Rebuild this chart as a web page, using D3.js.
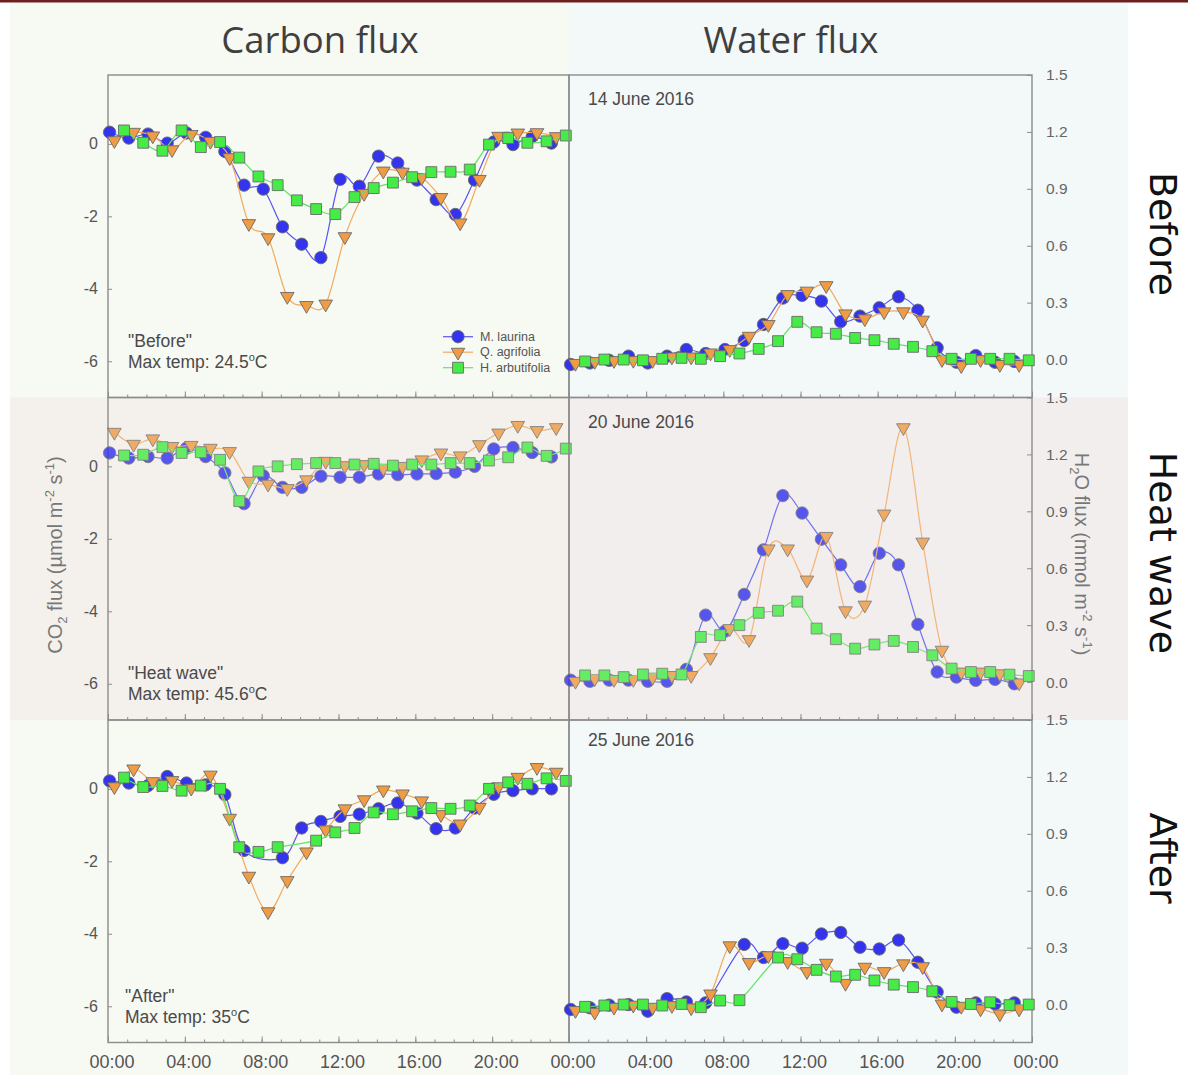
<!DOCTYPE html>
<html>
<head>
<meta charset="utf-8">
<script src="https://cdn.jsdelivr.net/npm/d3@7"></script>
<style>
  body { margin: 0; background: #fff; }
  svg { display: block; }
</style>
</head>
<body>
<svg id="fig" width="1188" height="1075"></svg>
<script>
// ---- data ---------------------------------------------------------------
const hours = [0,1,2,3,4,5,6,7,8,9,10,11,12,13,14,15,16,17,18,19,20,21,22,23];
const hourTicks = [0,4,8,12,16,20,24];
const hourLabels = ["00:00","04:00","08:00","12:00","16:00","20:00","00:00"];
const species = ["M. laurina", "Q. agrifolia", "H. arbutifolia"];
const sampleMinute = [5, 20, 50];           // minute within each hour a species is logged
const co2Ticks = [0, -2, -4, -6];
const h2oTicks = [0.0, 0.3, 0.6, 0.9, 1.2, 1.5];
const rowNames = ["Before", "Heat wave", "After"];
const periodNames = ["\"Before\"", "\"Heat wave\"", "\"After\""];
const maxTemps = ["24.5", "45.6", "35"];
const days = ["14 June 2016", "20 June 2016", "25 June 2016"];
const columnTitles = ["Carbon flux", "Water flux"];

// CO2 flux (µmol m-2 s-1)
const co2BeforeML = [0.32,0.16,0.27,0.02,0.30,0.18,-0.21,-1.14,-1.25,-2.29,-2.77,-3.14,-0.98,-1.17,-0.34,-0.53,-1.00,-1.54,-1.95,-1.00,0.05,-0.02,0.20,0.02];
const co2BeforeQA = [0.09,0.32,0.22,-0.16,0.26,0.07,-0.38,-2.20,-2.59,-4.21,-4.46,-4.42,-2.56,-1.37,-0.75,-0.78,-0.93,-1.48,-2.18,-0.98,0.21,0.30,0.31,0.20];
const co2BeforeHA = [0.37,0.03,-0.19,0.37,-0.09,0.05,-0.38,-0.90,-1.14,-1.56,-1.80,-1.94,-1.47,-1.22,-1.07,-0.92,-0.78,-0.77,-0.71,-0.02,0.16,0.03,0.07,0.23];

const co2HeatML = [0.37,0.23,0.27,0.23,0.50,0.27,-0.18,-1.03,-0.26,-0.58,-0.58,-0.27,-0.30,-0.30,-0.21,-0.23,-0.21,-0.20,-0.16,0.00,0.48,0.52,0.38,0.26];
const co2HeatQA = [0.94,0.61,0.76,0.55,0.58,0.50,0.41,-0.41,-0.49,-0.61,-0.37,0.14,0.02,0.05,-0.05,0.00,0.18,0.37,0.29,0.60,0.92,1.13,0.99,1.07];
const co2HeatHA = [0.30,0.32,0.53,0.37,0.39,0.18,-0.96,-0.14,0.00,0.06,0.09,0.09,0.05,0.07,0.02,0.05,0.05,0.09,0.09,0.16,0.25,0.52,0.29,0.49];

const co2AfterML = [0.22,0.16,0.09,0.34,0.16,0.11,-0.16,-1.70,null,-1.90,-1.08,-0.90,-0.76,-0.70,-0.55,-0.39,-0.67,-1.10,-1.08,-0.53,-0.15,-0.05,0.00,0.00];
const co2AfterQA = [0.06,0.55,0.20,0.23,0.02,0.38,-0.81,-2.41,-3.39,-2.53,-1.74,-1.13,-0.55,-0.30,-0.03,-0.14,-0.33,-0.71,-0.97,-0.51,0.06,0.32,0.59,0.46];
const co2AfterHA = [0.31,0.05,0.08,-0.05,0.09,0.00,-1.61,-1.74,-1.61,null,-1.43,-1.20,-1.08,-0.65,-0.70,-0.62,-0.53,-0.55,-0.46,0.00,0.18,0.14,0.29,0.22];

// H2O flux (mmol m-2 s-1)
const h2oBeforeML = [-0.026,-0.018,-0.004,0.018,-0.018,0.018,0.053,0.032,0.053,0.100,0.185,0.324,0.338,0.308,0.200,0.229,0.273,0.331,0.260,0.062,-0.014,0.021,-0.014,-0.010];
const h2oBeforeQA = [-0.020,-0.010,-0.005,-0.004,-0.005,0.014,0.014,0.035,0.053,0.123,0.185,0.343,0.361,0.390,0.241,0.215,0.252,0.252,0.208,0.000,-0.032,0.000,-0.026,-0.026];
const h2oBeforeHA = [-0.010,0.000,0.000,-0.004,0.004,0.009,0.004,0.018,0.032,0.056,0.097,0.199,0.144,0.136,0.114,0.102,0.083,0.067,0.044,0.004,0.004,0.004,0.004,-0.004];

const h2oHeatML = [0.010,0.004,0.010,0.010,0.004,0.004,0.067,0.353,0.268,0.462,0.697,0.983,0.891,0.753,0.618,0.503,0.679,0.618,0.304,0.053,0.026,0.009,0.014,-0.009];
const h2oHeatQA = [0.004,0.018,0.014,0.014,0.026,0.035,0.035,0.129,0.282,0.224,0.702,0.702,0.538,0.768,0.376,0.406,0.886,1.341,0.738,0.168,0.053,0.053,0.044,-0.004];
const h2oHeatHA = [0.035,0.035,0.026,0.040,0.044,0.040,0.238,0.247,0.300,0.365,0.376,0.424,0.282,0.226,0.176,0.198,0.217,0.185,0.141,0.071,0.053,0.053,0.039,0.032];

const h2oAfterML = [-0.026,-0.017,-0.003,0.000,-0.035,0.031,0.014,0.009,null,0.317,0.248,0.321,0.297,0.372,0.380,0.302,0.293,0.340,0.223,0.066,-0.014,0.009,0.003,0.009];
const h2oAfterQA = [-0.031,-0.040,-0.014,-0.003,-0.014,-0.005,-0.017,0.056,0.310,0.222,0.258,0.227,0.174,0.218,0.112,0.197,0.174,0.215,0.200,0.003,-0.009,-0.023,-0.049,-0.023];
const h2oAfterHA = [-0.012,-0.005,0.000,0.000,-0.005,0.003,-0.014,0.021,0.023,null,0.248,0.239,0.183,0.148,0.157,0.127,0.105,0.092,0.070,0.014,0.003,0.012,-0.003,0.000];

const co2Rows = [
  [co2BeforeML, co2BeforeQA, co2BeforeHA],
  [co2HeatML, co2HeatQA, co2HeatHA],
  [co2AfterML, co2AfterQA, co2AfterHA]
];
const h2oRows = [
  [h2oBeforeML, h2oBeforeQA, h2oBeforeHA],
  [h2oHeatML, h2oHeatQA, h2oHeatHA],
  [h2oAfterML, h2oAfterQA, h2oAfterHA]
];

// ---- layout & style -----------------------------------------------------
const svg = d3.select("#fig");
const FONT = "'Liberation Sans', Arial, sans-serif";
const TITLE_FONT = "'Open Sans', 'Noto Sans', sans-serif";
const ROW_FONT = "'DejaVu Sans', sans-serif";
const xLeft = [108, 569], xRight = [569, 1032];
const rowTop = [75, 397.5, 720], rowH = 322.5;
const frameColor = "#8c8c8c";
const labelColor = "#555";

const lineColors = ["#5656f2", "#f3a95e", "#62e462"];
const fillColors = ["#3434ee", "#f09c44", "#46ec46"];
const markerStroke = "#6a6a6a";
const symbols = [
  d3.symbol().type(d3.symbolCircle).size(120),
  d3.symbol().type(d3.symbolTriangle).size(80),
  d3.symbol().type(d3.symbolSquare).size(118)
];
const symbolRotate = [0, 180, 0];

// background tints
const bg = svg.append("g");
bg.append("rect").attr("x", 0).attr("y", 0).attr("width", 1188).attr("height", 1075).attr("fill", "#fff");
bg.append("rect").attr("x", 10).attr("y", 3).attr("width", 559).attr("height", 1072).attr("fill", "#f7f9f3");
bg.append("rect").attr("x", 569).attr("y", 3).attr("width", 559).attr("height", 1072).attr("fill", "#f3f8f9");
bg.append("rect").attr("x", 10).attr("y", rowTop[1]).attr("width", 559).attr("height", rowH).attr("fill", "#f4f0ec");
bg.append("rect").attr("x", 569).attr("y", rowTop[1]).attr("width", 559).attr("height", rowH).attr("fill", "#f2eeee");
bg.append("rect").attr("x", 0).attr("y", 0).attr("width", 1188).attr("height", 2.5).attr("fill", "#6d1f1f");

// column titles
columnTitles.forEach((t, i) => {
  svg.append("text")
    .attr("x", i === 0 ? 320 : 791).attr("y", 53)
    .attr("text-anchor", "middle")
    .attr("font-family", TITLE_FONT).attr("font-size", 36.5)
    .attr("fill", "#3f3f3f").text(t);
});

// row titles on the right, reading downwards
rowNames.forEach((t, i) => {
  svg.append("text")
    .attr("transform", `translate(1150,${[234, 553, 858][i]}) rotate(90)`)
    .attr("text-anchor", "middle")
    .attr("font-family", ROW_FONT).attr("font-size", 38)
    .attr("fill", "#111").text(t);
});

const layer = svg.append("g");

function drawPanel(r, isLeft) {
  const top = rowTop[r], bottom = rowTop[r] + rowH;
  const xr = isLeft ? xLeft : xRight;
  const x = d3.scaleLinear().domain([0, 24]).range(xr);
  const y = d3.scaleLinear().domain(isLeft ? [-7, 1.9] : [-0.2, 1.5]).range([bottom, top]);
  const g = layer.append("g");

  // frame
  g.append("rect").attr("x", xr[0]).attr("y", top)
    .attr("width", xr[1] - xr[0]).attr("height", rowH)
    .attr("fill", "none").attr("stroke", frameColor).attr("stroke-width", 1.4);

  // bottom time ticks (inward): hourly minor, 4-hourly major
  const xMinor = d3.axisBottom(x).tickValues(d3.range(1, 24)).tickSize(-3).tickFormat("");
  g.append("g").attr("transform", `translate(0,${bottom})`).call(xMinor)
    .call(a => a.select(".domain").remove())
    .call(a => a.selectAll("line").attr("stroke", frameColor));
  const xMajor = d3.axisBottom(x).tickValues(hourTicks).tickSize(-6).tickFormat("");
  g.append("g").attr("transform", `translate(0,${bottom})`).call(xMajor)
    .call(a => a.select(".domain").remove())
    .call(a => a.selectAll("line").attr("stroke", frameColor));

  // value axis
  if (isLeft) {
    const ya = d3.axisLeft(y).tickValues(co2Ticks).tickSize(-4).tickPadding(10).tickFormat(d => String(d));
    g.append("g").attr("transform", `translate(${xr[0]},0)`).call(ya)
      .call(a => a.select(".domain").remove())
      .call(a => a.selectAll("line").attr("stroke", frameColor))
      .call(a => a.selectAll("text").attr("font-family", FONT).attr("font-size", 16).attr("fill", labelColor));
  } else {
    const ya = d3.axisRight(y).tickValues(h2oTicks).tickSize(-5).tickPadding(14).tickFormat(d3.format(".1f"));
    g.append("g").attr("transform", `translate(${xr[1]},0)`).call(ya)
      .call(a => a.select(".domain").remove())
      .call(a => a.selectAll("line").attr("stroke", frameColor))
      .call(a => a.selectAll("text").attr("font-family", FONT).attr("font-size", 15.5).attr("fill", "#666"));
  }

  // series: smoothed line under the markers, missing samples skipped
  const rows = isLeft ? co2Rows : h2oRows;
  const marks = g.append("g").attr("opacity", r === 1 ? 0.82 : 1);
  rows[r].forEach((vals, s) => {
    const pts = hours.map((h, i) => ({ t: h + sampleMinute[s] / 60, v: vals[i] }))
                     .filter(d => d.v !== null);
    const line = d3.line().x(d => x(d.t)).y(d => y(d.v)).curve(d3.curveCardinal.tension(0));
    marks.append("path").attr("d", line(pts))
      .attr("fill", "none").attr("stroke", lineColors[s]).attr("stroke-width", 1.2);
    marks.selectAll(null).data(pts).enter().append("path")
      .attr("d", symbols[s])
      .attr("transform", d => `translate(${x(d.t)},${y(d.v)}) rotate(${symbolRotate[s]})`)
      .attr("fill", fillColors[s]).attr("stroke", markerStroke).attr("stroke-width", 0.9);
  });

  // annotations
  if (isLeft) {
    const tx = r === 2 ? 125 : 128;
    const base = [346.5, 678.5, 1001.5][r];
    g.append("text").attr("x", tx).attr("y", base)
      .attr("font-family", FONT).attr("font-size", 17.5).attr("fill", "#4a4a4a")
      .text(periodNames[r]);
    const t2 = g.append("text").attr("x", tx).attr("y", base + 21.5)
      .attr("font-family", FONT).attr("font-size", 17.5).attr("fill", "#4a4a4a");
    t2.append("tspan").text("Max temp: " + maxTemps[r]);
    t2.append("tspan").attr("font-size", 11).attr("dy", -7).text("o");
    t2.append("tspan").attr("dy", 7).text("C");
  } else {
    g.append("text").attr("x", 588).attr("y", [105, 427.5, 746][r])
      .attr("font-family", FONT).attr("font-size", 17.5).attr("fill", "#4a4a4a")
      .text(days[r]);
  }
}

for (let r = 0; r < 3; r++) { drawPanel(r, true); drawPanel(r, false); }

// time labels under the bottom row
const xLab = d3.scaleLinear().domain([0, 24]);
[xLeft, xRight].forEach((xr, k) => {
  xLab.range(xr);
  svg.append("g").selectAll("text")
    .data(hourTicks.map((h, i) => ({ h, label: hourLabels[i] })).filter(d => !(k === 1 && d.h === 0)))
    .enter().append("text")
    .attr("x", d => xLab(d.h) + 4).attr("y", 1068)
    .attr("text-anchor", "middle")
    .attr("font-family", FONT).attr("font-size", 18).attr("fill", labelColor)
    .text(d => d.label);
});

// legend in the first carbon panel
const legend = svg.append("g");
species.forEach((name, s) => {
  const ly = 336.7 + s * 15.5;
  legend.append("line").attr("x1", 443).attr("x2", 473).attr("y1", ly).attr("y2", ly)
    .attr("stroke", lineColors[s]).attr("stroke-width", 1.2);
  legend.append("path").attr("d", symbols[s])
    .attr("transform", `translate(458,${ly}) rotate(${symbolRotate[s]})`)
    .attr("fill", fillColors[s]).attr("stroke", markerStroke).attr("stroke-width", 0.9);
  legend.append("text").attr("x", 480).attr("y", ly + 4)
    .attr("font-family", FONT).attr("font-size", 12.5).attr("fill", labelColor)
    .text(name);
});

// y-axis titles
const co2Title = svg.append("text")
  .attr("transform", "translate(62,555) rotate(-90)")
  .attr("text-anchor", "middle")
  .attr("font-family", FONT).attr("font-size", 20).attr("fill", "#777");
co2Title.append("tspan").text("CO");
co2Title.append("tspan").attr("font-size", 13).attr("dy", 5).text("2");
co2Title.append("tspan").attr("dy", -5).text(" flux (µmol m");
co2Title.append("tspan").attr("font-size", 13).attr("dy", -8).text("-2");
co2Title.append("tspan").attr("dy", 8).text(" s");
co2Title.append("tspan").attr("font-size", 13).attr("dy", -8).text("-1");
co2Title.append("tspan").attr("dy", 8).text(")");

const h2oTitle = svg.append("text")
  .attr("transform", "translate(1075,554) rotate(90)")
  .attr("text-anchor", "middle")
  .attr("font-family", FONT).attr("font-size", 20).attr("fill", "#777");
h2oTitle.append("tspan").text("H");
h2oTitle.append("tspan").attr("font-size", 13).attr("dy", 5).text("2");
h2oTitle.append("tspan").attr("dy", -5).text("O flux (mmol m");
h2oTitle.append("tspan").attr("font-size", 13).attr("dy", -8).text("-2");
h2oTitle.append("tspan").attr("dy", 8).text(" s");
h2oTitle.append("tspan").attr("font-size", 13).attr("dy", -8).text("-1");
h2oTitle.append("tspan").attr("dy", 8).text(")");
</script>
</body>
</html>
